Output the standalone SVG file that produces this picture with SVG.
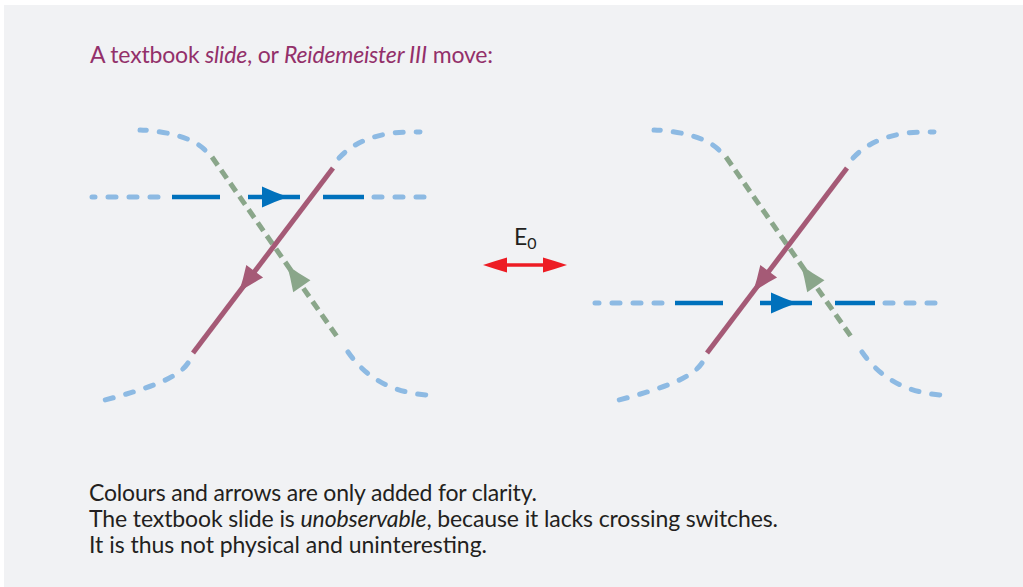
<svg xmlns="http://www.w3.org/2000/svg" width="1023" height="587" viewBox="0 0 1023 587">
<style>
.bg{fill:#f1f2f4}
.lb{fill:none;stroke:#8dbae3;stroke-width:5;stroke-linecap:round;stroke-dasharray:8 13}
.db{fill:none;stroke:#0071bc;stroke-width:4.5}
.gr{fill:none;stroke:#8aa68a;stroke-width:5;stroke-dasharray:10 6}
.mv{fill:none;stroke:#a55a76;stroke-width:5}
.t{font-family:Lato,"Open Sans","Liberation Sans",sans-serif}
.title{font-size:23px;fill:#93306a}
.cap{font-size:23px;fill:#231f20}
.it{font-style:italic}
</style>
<defs>
<path id="ah" d="M0,0 Q-13,-4.5 -26,-10.5 L-26,10.5 Q-13,4.5 0,0 Z"/>
</defs>
<rect class="bg" x="4" y="5" width="1019" height="582"/>
<g id="title">
<text class="t title" x="90" y="63" textLength="403">A textbook <tspan class="it">slide</tspan>, or <tspan class="it">Reidemeister III</tspan> move:</text>
</g>
<g id="left-diagram">
<path class="lb" d="M158,197 L92,197"/>
<path class="db" d="M172,197 H220 M248,197 H300 M323,197 H364"/>
<path class="lb" d="M374,197 L427,197"/>
<use href="#ah" transform="translate(288,197)" fill="#0071bc"/>
<path class="lb" d="M205,150 C192,137 165,131 140,130"/>
<path class="gr" d="M212,157 L338,338"/>
<path class="lb" d="M348,352 C362,372 385,392 427,395"/>
<use href="#ah" transform="translate(287,265) rotate(235.2)" fill="#8aa68a"/>
<path class="lb" d="M339,158 C358,138 385,131 420,132"/>
<path class="mv" d="M333,168 L193,353"/>
<path class="lb" d="M188,363 C178,378 150,388 105,400"/>
<use href="#ah" transform="translate(239,292) rotate(127.1)" fill="#a55a76"/>
</g>
<g id="right-diagram">
<path class="lb" d="M662,303 L595,303"/>
<path class="db" d="M675,303 H723 M760,303 H812 M835,303 H875"/>
<path class="lb" d="M885,303 L938,303"/>
<use href="#ah" transform="translate(797,303)" fill="#0071bc"/>
<g transform="translate(514,0)">
<path class="lb" d="M205,150 C192,137 165,131 140,130"/>
<path class="gr" d="M212,157 L338,338"/>
<path class="lb" d="M348,352 C362,372 385,392 427,395"/>
<use href="#ah" transform="translate(287,265) rotate(235.2)" fill="#8aa68a"/>
<path class="lb" d="M339,158 C358,138 385,131 420,132"/>
<path class="mv" d="M333,168 L193,353"/>
<path class="lb" d="M188,363 C178,378 150,388 105,400"/>
<use href="#ah" transform="translate(239,292) rotate(127.1)" fill="#a55a76"/>
</g>
</g>
<g id="move-arrow">
<path d="M500,265 H550" stroke="#ed1c24" stroke-width="3.5" fill="none"/>
<path d="M483,265 Q495,261 507,257.5 L507,272.5 Q495,269 483,265 Z" fill="#ed1c24"/>
<path d="M567,265 Q555,261 543,257.5 L543,272.5 Q555,269 567,265 Z" fill="#ed1c24"/>
<text class="t cap" x="514" y="245">E<tspan font-size="16" dy="4">0</tspan></text>
</g>
<g id="caption">
<text class="t cap" x="89" y="501" textLength="448">Colours and arrows are only added for clarity.</text>
<text class="t cap" x="89" y="527" textLength="689">The textbook slide is <tspan class="it">unobservable</tspan>, because it lacks crossing switches.</text>
<text class="t cap" x="89" y="553" textLength="398">It is thus not physical and uninteresting.</text>
</g>
</svg>
